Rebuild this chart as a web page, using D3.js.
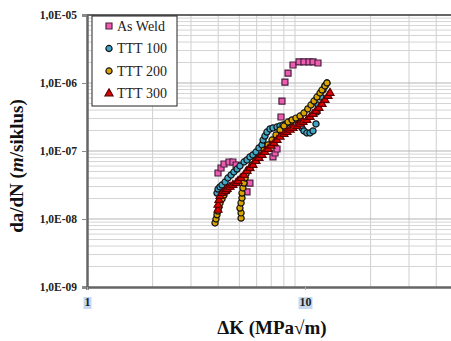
<!DOCTYPE html>
<html>
<head>
<meta charset="utf-8">
<script src="https://cdn.jsdelivr.net/npm/d3@7"></script>
<style>
  body { margin: 0; background: #fff; font-family: 'Liberation Serif'; }
  svg text, svg tspan { font-family: 'Liberation Serif' !important; }
</style>
</head>
<body>
<script>
// delta K (MPa sqrt m) and da/dN (m/cycle)
const asWeldK = [3.99, 4.12, 4.25, 4.48, 4.67, 4.83, 5.42, 5.59, 7.13, 7.29, 7.44, 7.76, 7.84, 8.09, 8.36, 8.81, 9.39, 9.89, 10.43, 10.88, 11.47];
const asWeldR = [4.75e-8, 5.62e-8, 6.44e-8, 6.89e-8, 6.89e-8, 6.22e-8, 2.50e-8, 3.38e-8, 8.17e-8, 9.35e-8, 1.07e-7, 3.16e-7, 5.43e-7, 1.03e-6, 1.40e-6, 1.84e-6, 2.04e-6, 2.04e-6, 2.04e-6, 2.04e-6, 1.97e-6];

const ttt100K = [3.947, 3.99, 4.075, 4.162, 4.30, 4.43, 4.58, 4.72, 4.88, 5.03, 5.25, 5.42, 5.59, 5.77, 5.96, 6.15, 6.35, 6.42, 6.55, 6.69, 6.91, 7.13, 7.44, 7.68, 7.93, 8.18, 8.54, 9.00, 9.39, 9.69, 9.89, 10.2, 10.54, 10.88, 11.23, 11.35, 11.47, 11.84, 12.10, 12.35, 12.61];
const ttt100R = [2.41e-8, 2.76e-8, 2.96e-8, 3.16e-8, 3.50e-8, 4.01e-8, 4.44e-8, 4.91e-8, 5.43e-8, 6.02e-8, 6.89e-8, 7.38e-8, 8.17e-8, 8.74e-8, 9.67e-8, 1.11e-7, 1.23e-7, 1.45e-7, 1.66e-7, 1.90e-7, 2.11e-7, 2.18e-7, 2.25e-7, 2.33e-7, 2.41e-7, 2.50e-7, 2.67e-7, 2.86e-7, 2.50e-7, 2.18e-7, 1.97e-7, 1.84e-7, 1.84e-7, 1.97e-7, 2.50e-7, 3.75e-7, 4.75e-7, 6.22e-7, 7.89e-7, 9.04e-7, 1.0e-6];

const ttt200K = [3.866, 3.906, 3.947, 3.99, 4.03, 4.075, 4.162, 4.25, 4.39, 4.53, 5.09, 5.09, 5.03, 5.09, 5.14, 5.14, 5.19, 5.25, 5.31, 5.36, 5.48, 5.71, 5.96, 6.22, 6.49, 6.77, 7.06, 7.36, 7.68, 8.01, 8.36, 8.72, 9.09, 9.49, 9.89, 10.3, 10.65, 11.0, 11.35, 11.72, 11.97, 12.35, 12.61];
const ttt200R = [8.74e-9, 1.0e-8, 1.15e-8, 1.31e-8, 1.50e-8, 1.72e-8, 1.97e-8, 2.25e-8, 2.58e-8, 2.96e-8, 1.03e-8, 1.23e-8, 1.45e-8, 1.72e-8, 2.04e-8, 2.41e-8, 2.86e-8, 3.38e-8, 4.01e-8, 4.59e-8, 5.26e-8, 6.22e-8, 7.38e-8, 8.44e-8, 1.03e-7, 1.23e-7, 1.45e-7, 1.72e-7, 2.04e-7, 2.33e-7, 2.67e-7, 2.86e-7, 3.05e-7, 3.27e-7, 3.62e-7, 4.15e-7, 4.75e-7, 5.43e-7, 6.22e-7, 7.13e-7, 7.89e-7, 9.04e-7, 1.0e-6];

const ttt300K = [3.99, 3.99, 4.03, 4.075, 4.162, 4.30, 4.39, 4.53, 4.67, 4.83, 4.93, 5.09, 5.25, 5.42, 5.59, 5.77, 5.96, 6.15, 6.35, 6.55, 6.77, 6.98, 7.21, 7.44, 7.68, 8.01, 8.27, 8.54, 8.81, 9.19, 9.49, 9.79, 10.2, 10.54, 10.88, 11.23, 11.59, 11.97, 12.35, 12.75, 13.02];
const ttt300R = [1.36e-8, 1.61e-8, 1.90e-8, 2.18e-8, 2.41e-8, 2.58e-8, 2.76e-8, 2.96e-8, 3.16e-8, 3.38e-8, 3.62e-8, 4.01e-8, 4.44e-8, 5.08e-8, 5.62e-8, 6.22e-8, 7.13e-8, 7.89e-8, 8.74e-8, 9.67e-8, 1.07e-7, 1.19e-7, 1.31e-7, 1.45e-7, 1.61e-7, 1.78e-7, 1.90e-7, 2.04e-7, 2.18e-7, 2.33e-7, 2.50e-7, 2.67e-7, 2.86e-7, 3.16e-7, 3.50e-7, 3.88e-7, 4.29e-7, 4.91e-7, 5.62e-7, 6.44e-7, 7.13e-7];

const seriesNames = ['As Weld', 'TTT 100', 'TTT 200', 'TTT 300'];
const yTickLabels = ['1,0E-09', '1,0E-08', '1,0E-07', '1,0E-06', '1,0E-05'];
const yTickValues = [1e-9, 1e-8, 1e-7, 1e-6, 1e-5];
const xTickLabels = ['1', '10'];
const xTickValues = [1, 10];

const W = 451, H = 341;
const margin = { top: 15, left: 87 };
const plotBottom = 287;

const x = d3.scaleLog().domain([1, 100]).range([margin.left, margin.left + 436]);
const y = d3.scaleLog().domain([1e-9, 1e-5]).range([plotBottom, margin.top]);

const svg = d3.select('body').append('svg')
  .attr('width', W)
  .attr('height', H)
  .style('display', 'block');

// gridlines (no major vertical line, only minor ones)
const xMinor = x.ticks().filter(v => ![1, 10, 100].includes(v));
svg.append('g').selectAll('line')
  .data(xMinor)
  .join('line')
  .attr('x1', d => x(d)).attr('x2', d => x(d))
  .attr('y1', margin.top).attr('y2', plotBottom)
  .attr('stroke', '#cfcfcf').attr('stroke-width', 1);

const yAll = y.ticks().filter(v => v > 1e-9 * 1.01 && v < 1e-5 * 0.99);
svg.append('g').selectAll('line')
  .data(yAll)
  .join('line')
  .attr('x1', margin.left).attr('x2', W)
  .attr('y1', d => y(d)).attr('y2', d => y(d))
  .attr('stroke', d => yTickValues.includes(d) ? '#b4b4b4' : '#d4d4d4')
  .attr('stroke-width', 1);

// frame
svg.append('line')
  .attr('x1', margin.left).attr('x2', W)
  .attr('y1', margin.top).attr('y2', margin.top)
  .attr('stroke', '#333').attr('stroke-width', 1.5);

// axes drawn by d3, labels styled afterwards
const yAxis = svg.append('g')
  .attr('transform', `translate(${margin.left},0)`)
  .call(d3.axisLeft(y).tickValues(yTickValues).tickSize(5).tickFormat((d, i) => yTickLabels[i]));
yAxis.attr('font-family', null).attr('font-size', null);
yAxis.select('.domain').attr('stroke', '#666').attr('stroke-width', 2.5);
yAxis.selectAll('.tick line').attr('stroke', '#888');
yAxis.selectAll('text')
  .attr('x', -10)
  .attr('font-weight', 'bold')
  .attr('font-size', 11.5)
  .attr('fill', '#222');

const xAxis = svg.append('g')
  .attr('transform', `translate(0,${plotBottom})`)
  .call(d3.axisBottom(x).tickValues(xTickValues).tickSize(3).tickFormat((d, i) => xTickLabels[i]));
xAxis.attr('font-family', null).attr('font-size', null);
xAxis.select('.domain').attr('stroke', '#666').attr('stroke-width', 2.5);
xAxis.selectAll('.tick line').attr('stroke', '#aac');
xAxis.selectAll('.tick').each(function () {
  const t = d3.select(this);
  t.select('text')
    .attr('y', 10)
    .attr('font-weight', 'bold')
    .attr('font-size', 12)
    .attr('fill', '#222');
  t.insert('rect', 'text')
    .attr('x', -4).attr('y', 10)
    .attr('width', d => d === 10 ? 14 : 8).attr('height', 12)
    .attr('transform', d => d === 10 ? 'translate(-3,0)' : null)
    .attr('fill', '#c6d9f1');
});

// axis titles
svg.append('text')
  .attr('x', 272).attr('y', 334)
  .attr('text-anchor', 'middle')
  .attr('font-weight', 'bold')
  .attr('font-size', 19)
  .attr('fill', '#111')
  .text('ΔK (MPa√m)');

const yt = svg.append('text')
  .attr('transform', 'translate(23,166) rotate(-90)')
  .attr('text-anchor', 'middle')
  .attr('font-weight', 'bold')
  .attr('font-size', 19)
  .attr('fill', '#111');
yt.append('tspan').text('da/dN (');
yt.append('tspan').attr('font-style', 'italic').text('m');
yt.append('tspan').text('/siklus)');

// markers
const symSquare = d3.symbol().type(d3.symbolSquare).size(36);
const symCircle = d3.symbol().type(d3.symbolCircle).size(30);
const symTri = d3.symbol().type(d3.symbolTriangle).size(28);

const styles = [
  { sym: symSquare, fill: '#ee5cb0', stroke: '#4a2040' },
  { sym: symCircle, fill: '#3fa6c6', stroke: '#111' },
  { sym: symCircle, fill: '#d9a400', stroke: '#111' },
  { sym: symTri, fill: '#e00000', stroke: '#5a0000' }
];

const series = [
  d3.zip(asWeldK, asWeldR),
  d3.zip(ttt100K, ttt100R),
  d3.zip(ttt200K, ttt200R),
  d3.zip(ttt300K, ttt300R)
];

series.forEach((pts, i) => {
  const st = styles[i];
  svg.append('g').selectAll('path')
    .data(pts)
    .join('path')
    .attr('transform', d => `translate(${x(d[0])},${y(d[1])})`)
    .attr('d', st.sym())
    .attr('fill', st.fill)
    .attr('stroke', st.stroke)
    .attr('stroke-width', 1.2);
});

// legend
const lg = svg.append('g').attr('transform', 'translate(92,16)');
lg.append('rect')
  .attr('width', 85).attr('height', 90)
  .attr('fill', '#fff').attr('stroke', '#222').attr('stroke-width', 1);
const rows = lg.selectAll('g.row')
  .data(seriesNames)
  .join('g')
  .attr('class', 'row')
  .attr('transform', (d, i) => `translate(0,${10 + i * 22.5})`);
rows.append('path')
  .attr('transform', 'translate(17,0)')
  .attr('d', (d, i) => styles[i].sym())
  .attr('fill', (d, i) => styles[i].fill)
  .attr('stroke', (d, i) => styles[i].stroke)
  .attr('stroke-width', 1.2);
rows.append('text')
  .attr('x', 25).attr('y', 4.5)
  .attr('font-size', 14)
  .attr('fill', '#222')
  .text(d => d);
</script>
</body>
</html>
